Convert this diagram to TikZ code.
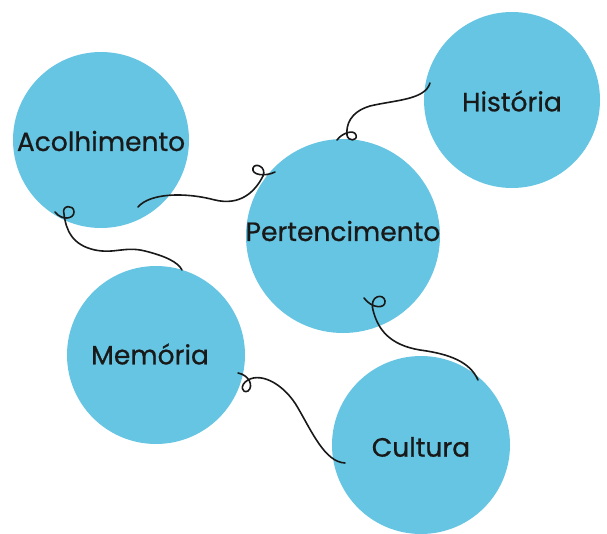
\documentclass[tikz,border=0pt]{standalone}
\usepackage{fontspec}
\setmainfont{Poppins}
\newfontfamily\lblfont{Poppins}[FakeBold=0.7]
\definecolor{bubble}{HTML}{66C5E2}
\begin{document}
\begin{tikzpicture}[x=1pt,y=-1pt,
  bub/.style={circle,fill=bubble,draw=none,inner sep=0pt,minimum size=#1},
  lbl/.style={font=\lblfont\fontsize{26.5}{28}\selectfont,text=black!90,inner sep=0pt},
  wire/.style={draw=black!90,line width=1.6pt,line cap=round,line join=round}]
\useasboundingbox (0,0) rectangle (607,533);
\node[bub=176pt] (acol) at (101,140) {};
\node[bub=176pt] (hist) at (512,100) {};
\node[bub=194pt] (pert) at (343,236) {};
\node[bub=178pt] (mem) at (156,355) {};
\node[bub=178pt] (cult) at (421,445) {};
\node[lbl] (tacol) at (101,141) {Acolhimento};
\node[lbl] (thist) at (512,101) {História};
\node[lbl] (tpert) at (343,231) {Pertencimento};
\node[lbl] (tmem) at (150,354) {Memória};
\node[lbl] (tcult) at (421,447) {Cultura};
% connector ends
\coordinate (c1a) at (138,207); \coordinate (c1b) at (275,172);
\coordinate (c2a) at (430,83);  \coordinate (c2b) at (337,140);
\coordinate (c3a) at (55,212);  \coordinate (c3b) at (182,270);
\coordinate (c4a) at (364,298); \coordinate (c4b) at (478,380);
\coordinate (c5a) at (238,373); \coordinate (c5b) at (345,463);
\draw[wire] (c1a) .. controls (150,193) and (185,192) .. (215,200)
  .. controls (240,206) and (255,192) .. (263,176)
  .. controls (267,167) and (255,162) .. (253,168)
  .. controls (251,175) and (265,177) .. (c1b);
\draw[wire] (c2a) .. controls (425,100) and (395,100) .. (370,106)
  .. controls (350,112) and (346,125) .. (347,135)
  .. controls (348,142) and (358,141) .. (356,135)
  .. controls (354,129) and (342,133) .. (c2b);
\draw[wire] (c3a) .. controls (62,221) and (74,219) .. (74,212)
  .. controls (74,204) and (61,205) .. (64,214)
  .. controls (66,230) and (72,245) .. (95,250)
  .. controls (115,254) and (125,246) .. (145,251)
  .. controls (165,256) and (178,262) .. (c3b);
\draw[wire] (c4a) .. controls (372,309) and (386,309) .. (385,301)
  .. controls (384,293) and (369,295) .. (373,310)
  .. controls (378,330) and (390,345) .. (420,350)
  .. controls (450,354) and (470,362) .. (c4b);
\draw[wire] (c5a) .. controls (249,375) and (254,386) .. (248,391)
  .. controls (242,394) and (239,385) .. (248,380)
  .. controls (262,372) and (285,385) .. (298,408)
  .. controls (312,432) and (325,462) .. (c5b);
\end{tikzpicture}
\end{document}
